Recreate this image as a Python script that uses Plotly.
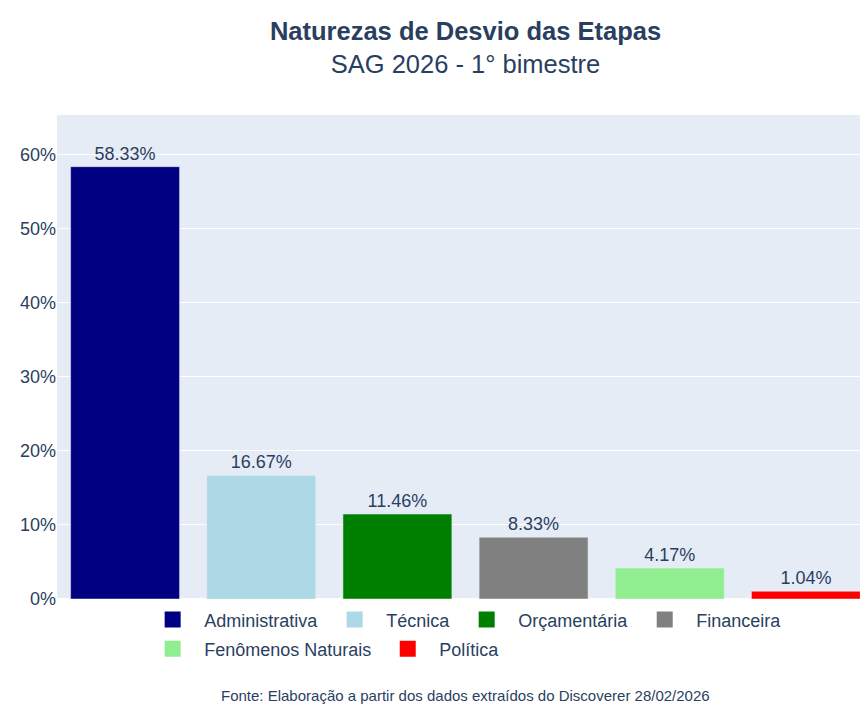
import plotly.graph_objects as go

categories = ["Administrativa", "Técnica", "Orçamentária", "Financeira", "Fenômenos Naturais", "Política"]
values = [58.33, 16.67, 11.46, 8.33, 4.17, 1.04]
colors = ["#000080", "#ADD8E6", "#008000", "#808080", "#90EE90", "#FF0000"]
tick_vals = [0, 10, 20, 30, 40, 50, 60]
tick_text = ["0%", "10%", "20%", "30%", "40%", "50%", "60%"]

FONT = "Liberation Sans, Arial, sans-serif"

fig = go.Figure()
for i, (cat, val, col) in enumerate(zip(categories, values, colors)):
    fig.add_trace(go.Bar(
        x=[cat], y=[val], name=cat,
        marker=dict(color=col),
        text=[f"{val:.2f}%"], textposition="outside",
        textfont=dict(size=18, color="#2a3f5f"),
        cliponaxis=False,
        legendgroup=cat, showlegend=False,
    ))
    # legend entry (square swatch, same colour as the bar)
    fig.add_trace(go.Scatter(
        x=[cat], y=[None], name=cat, mode="markers",
        marker=dict(symbol="square", size=18, color=col),
        legendgroup=cat, showlegend=True, hoverinfo="skip",
        legend="legend" if i < 4 else "legend2",
    ))

legend_common = dict(orientation="h", xanchor="left", yanchor="top", itemwidth=53,
                     font=dict(size=18, family=FONT, color="#2a3f5f"),
                     bgcolor="rgba(0,0,0,0)")

fig.update_layout(
    template="plotly",
    width=906, height=700,
    font=dict(family=FONT, color="#2a3f5f"),
    title=dict(
        text="<b>Naturezas de Desvio das Etapas</b><br>SAG 2026 - 1° bimestre",
        x=0.5, xref="paper", xanchor="center", y=0.955, yanchor="top",
        font=dict(size=25.5, family=FONT, color="#2a3f5f"),
    ),
    barmode="overlay",
    bargap=0.2,
    margin=dict(l=49, r=40, t=107, b=109),
    xaxis=dict(showticklabels=False, categoryorder="array", categoryarray=categories),
    yaxis=dict(range=[0, 65.3], tickvals=tick_vals, ticktext=tick_text,
               tickfont=dict(size=18)),
    legend=dict(x=0.103, y=-0.005, **legend_common),
    legend2=dict(x=0.103, y=-0.065, **legend_common),
    annotations=[dict(
        text="Fonte: Elaboração a partir dos dados extraídos do Discoverer 28/02/2026",
        x=0.5, xref="paper", y=-0.2, yref="paper", xanchor="center", yanchor="middle",
        showarrow=False, font=dict(size=15, color="#2a3f5f"),
    )],
    paper_bgcolor="white",
    plot_bgcolor="#E5ECF6",
)

fig.write_html("out.html", post_script="document.body.style.overflow='hidden';")
